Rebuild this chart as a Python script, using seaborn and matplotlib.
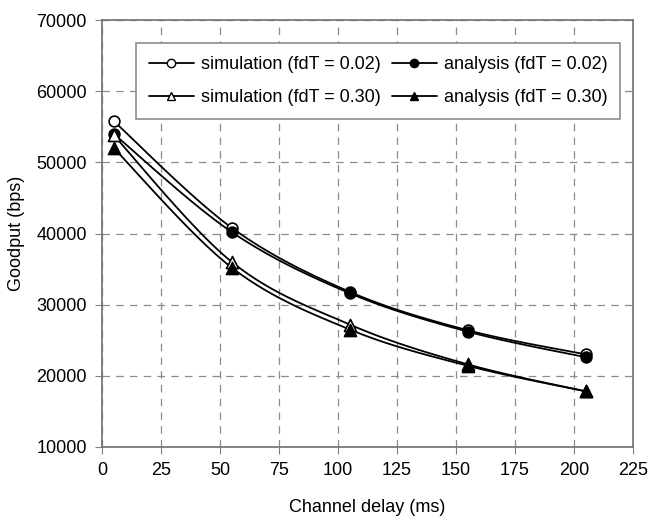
import numpy as np
import pandas as pd
import matplotlib.pyplot as plt
import seaborn as sns
from matplotlib.lines import Line2D

# =================================================
# 1. Data
# =================================================

delay_ms = [5, 55, 105, 155, 205]

sim_002 = [55800, 40800, 31800, 26400, 23000]
ana_002 = [54000, 40200, 31600, 26200, 22600]
sim_030 = [53800, 36000, 27200, 21600, 17800]
ana_030 = [52000, 35200, 26500, 21400, 17800]

labels = [
    "simulation (fdT = 0.02)",
    "analysis (fdT = 0.02)",
    "simulation (fdT = 0.30)",
    "analysis (fdT = 0.30)",
]
markers = ["o", "o", "^", "^"]
fills = ["white", "black", "white", "black"]

x_ticks = list(range(0, 226, 25))
y_ticks = list(range(10000, 70001, 10000))


# =================================================
# 2. Helper: Excel-like smoothed line (Catmull-Rom)
# =================================================

def smooth_curve(x, y, steps=30):
    x = np.asarray(x, float)
    y = np.asarray(y, float)
    px = np.concatenate([[x[0]], x, [x[-1]]])
    py = np.concatenate([[y[0]], y, [y[-1]]])
    xs, ys = [], []
    t = np.linspace(0, 1, steps)
    for i in range(1, len(px) - 2):
        for p, out in ((px, xs), (py, ys)):
            p0, p1, p2, p3 = p[i - 1], p[i], p[i + 1], p[i + 2]
            c1 = p1 + (p2 - p0) / 6
            c2 = p2 - (p3 - p1) / 6
            out.extend((1 - t) ** 3 * p1 + 3 * (1 - t) ** 2 * t * c1
                       + 3 * (1 - t) * t ** 2 * c2 + t ** 3 * p2)
    return np.array(xs), np.array(ys)


# =================================================
# 3. Plot
# =================================================

sns.set_style("white")
plt.rcParams["font.family"] = ["Liberation Sans", "DejaVu Sans"]
plt.rcParams["text.color"] = "black"
plt.rcParams["axes.labelcolor"] = "black"
plt.rcParams["xtick.color"] = "black"
plt.rcParams["ytick.color"] = "black"

fig = plt.figure(figsize=(6.54, 5.19), dpi=100)
ax = fig.add_axes([0.156, 0.139, 0.812, 0.822])

series = [sim_002, ana_002, sim_030, ana_030]
for vals, lab, m, fc in zip(series, labels, markers, fills):
    cx, cy = smooth_curve(delay_ms, vals)
    curve = pd.DataFrame({"x": cx, "y": cy})
    sns.lineplot(data=curve, x="x", y="y", ax=ax, color="black",
                 linewidth=1.3, sort=False, estimator=None)
    pts = pd.DataFrame({"x": delay_ms, "y": vals})
    sns.scatterplot(data=pts, x="x", y="y", ax=ax, marker=m,
                    s=60 if m == "o" else 75, facecolor=fc,
                    edgecolor="black", linewidth=1.2, zorder=5)

ax.set_xlim(0, 225)
ax.set_ylim(10000, 70000)
ax.set_xticks(x_ticks)
ax.set_yticks(y_ticks)
ax.tick_params(labelsize=13, length=5, color="#808080", direction="out",
               left=True, bottom=True, pad=6)

ax.grid(True, color="#8c8c8c", linestyle=(0, (6, 5)), linewidth=0.9)
for side in ax.spines.values():
    side.set_color("#707070")
    side.set_linewidth(1.2)

ax.set_xlabel("Channel delay (ms)", fontsize=13, labelpad=14)
ax.set_ylabel("Goodput (bps)", fontsize=13, labelpad=8)

# legend fills column-wise, so order entries to get rows like the original
order = [0, 2, 1, 3]
handles = [
    Line2D([0], [0], color="black", linewidth=1.3, marker=markers[i],
           markerfacecolor=fills[i], markeredgecolor="black", markersize=6)
    for i in order
]
leg = ax.legend(handles, [labels[i] for i in order], ncol=2,
                loc="upper right", bbox_to_anchor=(0.976, 0.946),
                fontsize=13, frameon=True, fancybox=False,
                edgecolor="#8c8c8c", framealpha=1, handlelength=2.5,
                handletextpad=0.4, columnspacing=0.6, labelspacing=0.9,
                borderpad=0.7, borderaxespad=0)
leg.get_frame().set_linewidth(1.2)

plt.savefig("out.png", dpi=100)
